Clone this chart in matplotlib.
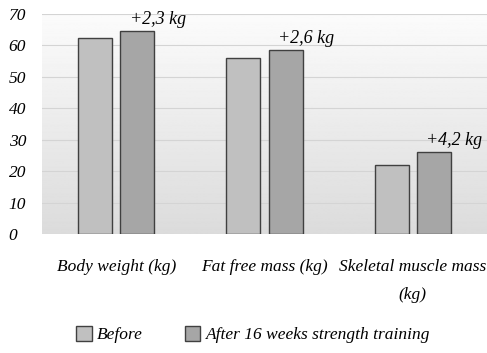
import numpy as np
import matplotlib.pyplot as plt

categories = ["Body weight (kg)", "Fat free mass (kg)", "Skeletal muscle mass\n(kg)"]
before = [62.3, 56.0, 21.8]
after = [64.6, 58.6, 26.0]
gain_labels = ["+2,3 kg", "+2,6 kg", "+4,2 kg"]
series_names = ["Before", "After 16 weeks strength training"]
yticks = [0, 10, 20, 30, 40, 50, 60, 70]

plt.rcParams['font.family'] = ['Liberation Serif', 'DejaVu Serif']
plt.rcParams['font.style'] = 'italic'

fig = plt.figure(figsize=(4.87, 3.53), dpi=100)
ax = fig.add_axes([42 / 487, 1 - 234 / 353, 445 / 487, 220 / 353])

# gradient background of the plot area
grad = np.linspace(0.86, 0.985, 256).reshape(-1, 1)
ax.imshow(grad, cmap="gray", vmin=0, vmax=1, aspect="auto",
          extent=[-0.5, 2.5, 0, 70], origin="lower", zorder=0)

x = np.arange(len(categories))
w = 0.23
ax.bar(x - 0.142, before, w, color="#c0c0c0", edgecolor="#404040", lw=1, zorder=3, label=series_names[0])
ax.bar(x + 0.142, after, w, color="#a6a6a6", edgecolor="#404040", lw=1, zorder=3, label=series_names[1])

for xi, v, t in zip(x, after, gain_labels):
    ax.text(xi + 0.09, v + 1.0, t, fontsize=13, ha="left", va="bottom", style="italic")

ax.set_xlim(-0.5, 2.5)
ax.set_ylim(0, 70)
ax.set_yticks(yticks)
ax.set_yticklabels([str(t) for t in yticks], fontsize=12.5)
ax.yaxis.grid(True, color="#d4d4d4", lw=0.8, zorder=1)
ax.set_axisbelow(True)
ax.set_xticks(x)
ax.set_xticklabels(categories, fontsize=12.5, linespacing=2.0)
ax.tick_params(length=0, pad=18)
ax.tick_params(axis="y", pad=24)
for t in ax.get_yticklabels():
    t.set_horizontalalignment("left")
for s in ax.spines.values():
    s.set_visible(False)

fig.legend(loc="lower center", bbox_to_anchor=(0.52, 0.0), ncol=2, frameon=False,
           fontsize=12.5, handlelength=0.9, handleheight=0.9, columnspacing=2.4,
           handletextpad=0.3, borderaxespad=0.15)

fig.savefig("out.png", dpi=100)
